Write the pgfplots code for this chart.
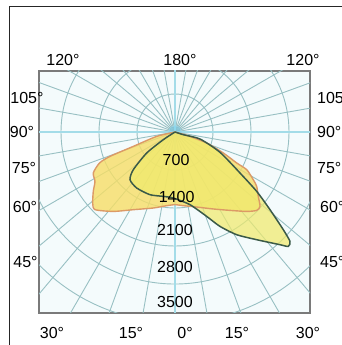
\documentclass[border=0pt]{standalone}
\usepackage{pgfplots}
\pgfplotsset{compat=1.18}
\usepackage{pgfplotstable}
\usepackage{fontspec}
\setmainfont{Liberation Sans}
\definecolor{bgc}{HTML}{F4FBFC}
\definecolor{gridc}{HTML}{98C0C3}
\definecolor{cyanl}{HTML}{A3DCE8}
\definecolor{orline}{HTML}{DC9A66}
\definecolor{orfill}{HTML}{F7DE66}
\definecolor{grline}{HTML}{3B5A48}
\definecolor{grfill}{HTML}{F0EA6C}
\definecolor{boxc}{HTML}{7A7A7A}

% C0-C180 plane (orange), intensities in cd, cartesian
\pgfplotstableread{
x y
0 0
-337 -81
-768 -265
-1197 -449
-1390 -571
-1505 -755
-1474 -910
-1505 -1094
-1516 -1308
-1474 -1430
-1137 -1463
-768 -1431
-400 -1400
-153 -1357
0 -1339
153 -1357
400 -1382
705 -1418
1013 -1444
1321 -1463
1505 -1444
1566 -1370
1534 -1186
1505 -1002
1442 -879
1321 -694
1137 -571
890 -387
584 -203
276 -81
0 0
}\orangeplane

% C90-C270 plane (dark green), intensities in cd, cartesian
\pgfplotstableread{
x y
0 0
-216 -142
-521 -387
-768 -694
-829 -879
-705 -1032
-461 -1155
-216 -1186
-31 -1216
276 -1339
584 -1555
829 -1739
1137 -1892
1505 -1984
1934 -2076
2087 -2107
2118 -2015
1995 -1800
1750 -1431
1505 -1094
1197 -755
829 -374
461 -129
153 -50
0 0
}\greenplane

\begin{document}
\begin{tikzpicture}
\path[use as bounding box] (0,0) rectangle (342pt,345pt);
\draw[black!85, line width=1pt] (9.5pt,0) -- (9.5pt,338.5pt) -- (345pt,338.5pt);
\begin{axis}[
  at={(175pt,213pt)}, anchor=origin,
  x=0.054286pt, y=0.054286pt,
  xmin=-2505, xmax=2487, ymin=-3334, ymax=1124,
  ticks=none,
  axis line style={draw=boxc, line width=1.6pt},
  axis background/.style={fill=bgc},
  clip=true,
]
% radial grid
\pgfplotsinvokeforeach{0,10,...,350}{
  \draw[gridc, line width=0.9pt] (axis cs:0,0) -- (axis cs:{6000*cos(#1)},{6000*sin(#1)});
}
\pgfplotsinvokeforeach{700,1400,2100,2800,3500}{
  \draw[gridc, line width=0.9pt] (axis cs:0,0) circle [radius=#1];
}
\draw[cyanl, line width=1.8pt] (axis cs:-3000,0) -- (axis cs:3000,0);
\draw[cyanl, line width=1.4pt] (axis cs:0,-4000) -- (axis cs:0,2000);
\fill[cyan!60, opacity=0.35] (axis cs:0,0) circle [radius=120];
% fills
\addplot[draw=none, fill=orfill, fill opacity=0.80] table {\orangeplane} -- cycle;
\addplot[draw=none, fill=grfill, fill opacity=0.72] table {\greenplane} -- cycle;
% outlines
\addplot[orline, line width=1.4pt, smooth, tension=0.4] table {\orangeplane};
\addplot[grline, line width=1.5pt, smooth, tension=0.4] table {\greenplane};
% intensity scale
\node[font=\fontsize{16}{18}\selectfont] at (axis cs:20,-516) {700};
\node[font=\fontsize{16}{18}\selectfont] at (axis cs:30,-1197) {1400};
\node[font=\fontsize{16}{18}\selectfont] at (axis cs:0,-1805) {2100};
\node[font=\fontsize{16}{18}\selectfont] at (axis cs:0,-2487) {2800};
\node[font=\fontsize{16}{18}\selectfont] at (axis cs:0,-3131) {3500};
\end{axis}
\begin{scope}[every node/.style={font=\fontsize{16}{18}\selectfont, inner sep=0pt}]
\node at (63pt,285pt) {120°};
\node at (180pt,285pt) {180°};
\node at (303pt,285pt) {120°};
\node at (27pt,247pt) {105°};
\node at (22pt,213pt) {90°};
\node at (24pt,177pt) {75°};
\node at (25pt,138pt) {60°};
\node at (25.5pt,83pt) {45°};
\node[anchor=west] at (317pt,247pt) {105°};
\node[anchor=west] at (317pt,213pt) {90°};
\node[anchor=west] at (317pt,177pt) {75°};
\node[anchor=west] at (320pt,138pt) {60°};
\node[anchor=west] at (320pt,83pt) {45°};
\node at (52pt,12pt) {30°};
\node at (131pt,12pt) {15°};
\node at (185pt,12pt) {0°};
\node at (237pt,12pt) {15°};
\node at (308pt,12pt) {30°};
\end{scope}
\end{tikzpicture}
\end{document}
